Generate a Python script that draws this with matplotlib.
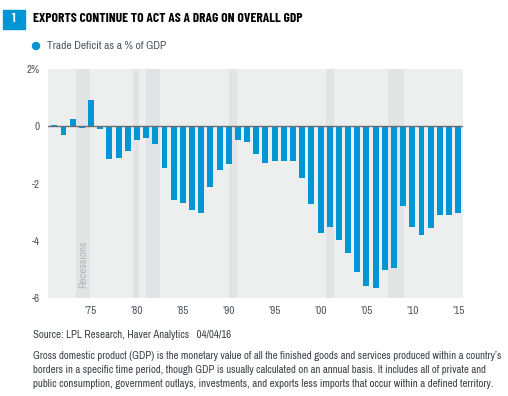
import matplotlib
matplotlib.use("Agg")
import matplotlib.pyplot as plt
from matplotlib.patches import Rectangle, Ellipse

# trade deficit as % of GDP, annual
years = list(range(1971, 2016))
deficit = [0.04, -0.32, 0.25, -0.07, 0.91, -0.10, -1.16, -1.12, -0.88, -0.49,
           -0.42, -0.63, -1.47, -2.56, -2.67, -2.91, -3.02, -2.11, -1.54, -1.33,
           -0.49, -0.56, -0.98, -1.30, -1.23, -1.23, -1.23, -1.82, -2.70, -3.72,
           -3.51, -3.96, -4.42, -5.09, -5.58, -5.65, -5.02, -4.95, -2.77, -3.51,
           -3.79, -3.54, -3.09, -3.09, -3.02]
recessions = [(1973.4, 1974.9), (1979.6, 1980.2), (1981.0, 1982.5),
              (1990.0, 1990.9), (2000.6, 2001.5), (2007.4, 2009.1)]
tick_years = [1975, 1980, 1985, 1990, 1995, 2000, 2005, 2010, 2015]
tick_labels = ["\u201975", "\u201980", "\u201985", "\u201990", "\u201995",
               "\u201900", "\u201905", "\u201910", "\u201915"]
y_ticks = [2, 0, -2, -4, -6]
y_labels = ["2%", "0", "-2", "-4", "-6"]

blue = "#0096d6"
txt = "#4d5560"
font = ["Archivo Narrow", "Liberation Sans", "DejaVu Sans"]
title_font = ["Barlow Condensed", "Liberation Sans", "DejaVu Sans"]

fig = plt.figure(figsize=(5.08, 3.96), dpi=100)
renderer = fig.canvas.get_renderer()

def fit(t, width_px):
    # scale the text so it spans the width seen in the reference
    w = t.get_window_extent(renderer).width
    t.set_fontsize(t.get_fontsize() * width_px / w)

ax = fig.add_axes([48/508, 1-298/396, 415/508, 229/396])
ax.set_facecolor("#edeeee")

for a, b in recessions:
    ax.axvspan(a, b, color="#e2e3e5", lw=0, zorder=0)

ax.bar(years, deficit, width=0.65, color=blue, zorder=2)
ax.axhline(0, color="#6b6e72", lw=1.0, zorder=3)

ax.set_xlim(1970.31, 2015.52)
ax.set_ylim(-6, 2)
ax.set_xticks(tick_years)
ax.set_xticklabels(tick_labels, family=font, fontsize=8, color=txt)
ax.set_yticks(y_ticks)
ax.set_yticklabels(y_labels, family=font, fontsize=8, color=txt)
ax.tick_params(length=0, pad=6)
for s in ax.spines.values():
    s.set_visible(False)

ax.text(1974.1, -5.65, "Recessions", rotation=90, family=font, fontsize=8,
        color="#b3b5b8", ha="center", va="bottom")

# header
fig.patches.append(Rectangle((3/508, 1-29/396), 22/508, 19/396,
                             transform=fig.transFigure, color=blue))
fig.text(14/508, 1-19/396, "1", color="white", fontsize=9, weight="bold",
         ha="center", va="center", family=title_font)
t = fig.text(33/508, 1-19/396, "EXPORTS CONTINUE TO ACT AS A DRAG ON OVERALL GDP",
             fontsize=9, weight="bold", family=title_font, color="black", va="center")
fit(t, 265)
fig.patches.append(Ellipse((36/508, 1-46/396), 7/508, 7/396,
                           transform=fig.transFigure, color=blue))
t = fig.text(47/508, 1-46/396, "Trade Deficit as a % of GDP", fontsize=8,
             family=font, color=txt, va="center")
fit(t, 119)

# footer
t = fig.text(33/508, 1-335/396, "Source: LPL Research, Haver Analytics   04/04/16",
             fontsize=7.5, family=font, color="#3c4148", va="center")
fit(t, 198)
notes = ["Gross domestic product (GDP) is the monetary value of all the finished goods and services produced within a country\u2019s",
         "borders in a specific time period, though GDP is usually calculated on an annual basis. It includes all of private and",
         "public consumption, government outlays, investments, and exports less imports that occur within a defined territory."]
note_widths = [468, 452, 459]
for i, line in enumerate(notes):
    t = fig.text(33/508, 1-(356+14*i)/396, line, fontsize=7.5, family=font,
                 color="#3c4148", va="center")
    fit(t, note_widths[i])

fig.savefig("out.png", dpi=100)
